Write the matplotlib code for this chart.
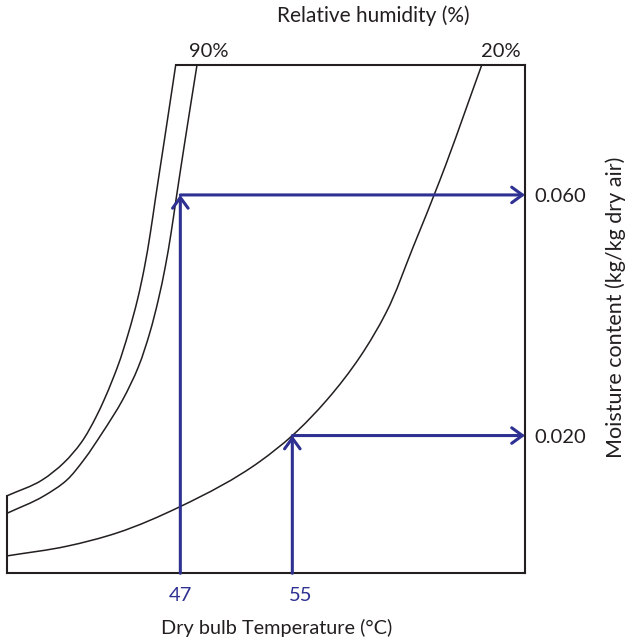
import matplotlib
matplotlib.use("Agg")
import matplotlib.pyplot as plt
import numpy as np
from matplotlib.path import Path
from matplotlib.patches import PathPatch

plt.rcParams['font.family'] = ['Lato', 'DejaVu Sans']
plt.rcParams['font.size'] = 14.5

INK = '#231f20'
BLUE = '#2e3192'

# frame of the chart: dry bulb (°C) and moisture content (kg/kg)
T_MIN, T_MAX = 34.64, 71.62
W_MIN, W_MAX = -0.0029, 0.0816

# saturation line (outer curve)
sat_t = [34.64, 37.12, 38.69, 39.91, 40.98, 41.55, 42.16, 42.51, 43.30, 43.94, 44.44, 44.86, 45.21, 45.86, 46.67]
sat_w = [0.0100, 0.0126, 0.0155, 0.0188, 0.0231, 0.0259, 0.0293, 0.0314, 0.0371, 0.0426, 0.0480, 0.0537, 0.0592, 0.0691, 0.0816]

# 90 % relative humidity
rh90_t = [34.64, 37.21, 38.89, 40.12, 41.41, 42.87, 44.00, 44.82, 45.43, 45.92, 46.34, 46.69, 47.34, 48.19]
rh90_w = [0.0071, 0.0099, 0.0126, 0.0160, 0.0204, 0.0259, 0.0314, 0.0371, 0.0426, 0.0480, 0.0537, 0.0592, 0.0691, 0.0816]

# 20 % relative humidity
rh20_t = [34.64, 38.89, 42.46, 47.00, 52.69, 55.00, 57.46, 59.84, 61.69, 63.64, 65.55, 68.53]
rh20_w = [0.0000, 0.0016, 0.0038, 0.0082, 0.0157, 0.0200, 0.0259, 0.0331, 0.0404, 0.0514, 0.0625, 0.0816]

# read-off examples
temps = [47, 55]
moist = [0.060, 0.020]
rh_labels = ['90%', '20%']

W, H = 625, 640
def fpos(x, y):
    return x / W, 1 - y / H

fig = plt.figure(figsize=(6.25, 6.4), dpi=100)
ax = fig.add_axes([7.3 / W, 1 - 573.3 / H, (525 - 7.3) / W, (573.3 - 65) / H])
ax.set_xlim(T_MIN, T_MAX)
ax.set_ylim(W_MIN, W_MAX)

def smooth(xs, ys):
    # smooth line through the points, chord length spacing measured on screen
    P = np.column_stack([xs, ys])
    h = np.hypot(*np.diff(ax.transData.transform(P), axis=0).T)
    s = np.diff(P, axis=0) / h[:, None]
    m = np.empty_like(P)
    m[0], m[-1] = s[0], s[-1]
    m[1:-1] = (s[1:] * h[:-1, None] + s[:-1] * h[1:, None]) / (h[:-1] + h[1:])[:, None]
    verts = [P[0]]
    codes = [Path.MOVETO]
    for i in range(len(P) - 1):
        verts += [P[i] + m[i] * h[i] / 3, P[i + 1] - m[i + 1] * h[i] / 3, P[i + 1]]
        codes += [Path.CURVE4] * 3
    return Path(verts, codes)

for s in ax.spines.values():
    s.set_color(INK)
    s.set_linewidth(1.5)
ax.spines['left'].set_bounds(W_MIN, sat_w[0])
ax.spines['top'].set_bounds(sat_t[-1], T_MAX)

for xs, ys in [(sat_t, sat_w), (rh90_t, rh90_w), (rh20_t, rh20_w)]:
    ax.add_patch(PathPatch(smooth(xs, ys), facecolor='none', edgecolor=INK, lw=1.1))

arrow = dict(arrowstyle='->,head_length=0.55,head_width=0.4', color=BLUE, lw=2.2,
             mutation_scale=14, shrinkA=0, shrinkB=0)
for t, w in zip(temps, moist):
    ax.annotate('', xy=(t, w), xytext=(t, W_MIN), arrowprops=arrow, annotation_clip=False)
    ax.annotate('', xy=(T_MAX, w), xytext=(t, w), arrowprops=arrow, annotation_clip=False)

# y values on the right
ax.set_xticks([])
ax.yaxis.tick_right()
ax.set_yticks(moist)
ax.set_yticklabels(['%.3f' % w for w in moist])
ax.tick_params(axis='y', length=0, pad=7, labelcolor=INK)

# temperatures below the frame, the 55 sits a bit to the right
nudge = {47: 0, 55: 8}
for t in temps:
    ax.annotate(str(t), xy=(t, 0), xycoords=('data', 'axes fraction'),
                xytext=(nudge[t], -27.4), textcoords='offset pixels',
                ha='center', va='baseline', color=BLUE)

fig.text(*fpos(208.5, 57.3), rh_labels[0], ha='center', va='baseline', color=INK)
fig.text(*fpos(501, 57.3), rh_labels[1], ha='center', va='baseline', color=INK)
fig.text(*fpos(373, 22), 'Relative humidity (%)', ha='center', va='baseline', color=INK, fontsize=15)
fig.text(*fpos(276.7, 634), 'Dry bulb Temperature (°C)', ha='center', va='baseline', color=INK, fontsize=14.3)
fig.text(*fpos(621.7, 307), 'Moisture content (kg/kg dry air)', rotation=90,
         rotation_mode='anchor', ha='center', va='baseline', color=INK, fontsize=15.5)

fig.savefig('out.png', dpi=100)
